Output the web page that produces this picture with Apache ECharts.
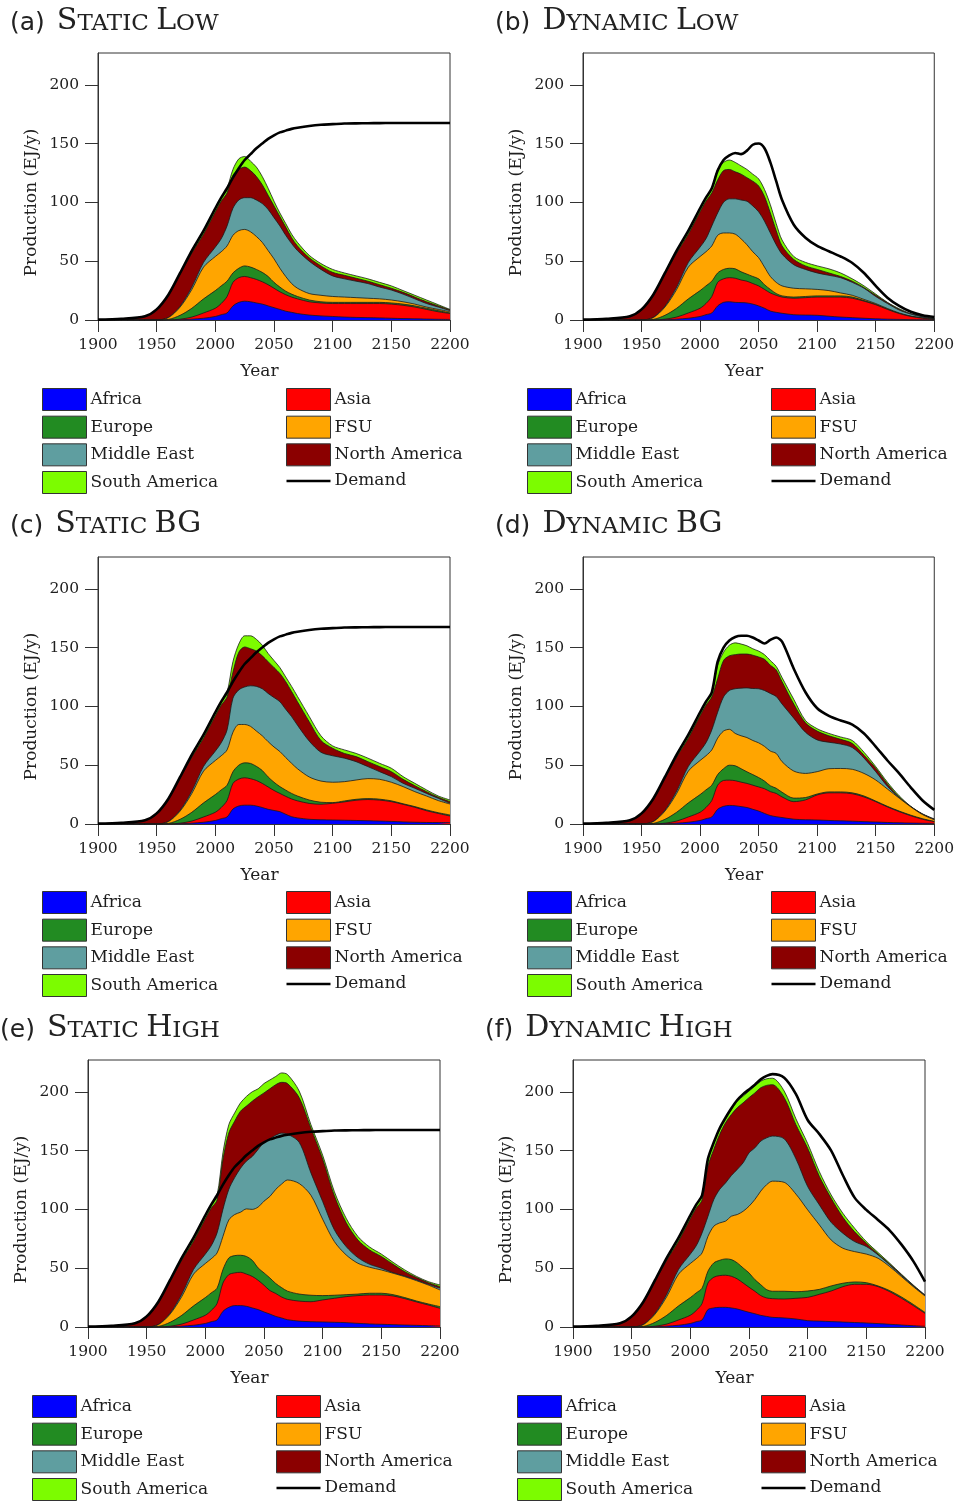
<!DOCTYPE html>
<html>
<head>
<meta charset="utf-8">
<script src="https://cdn.jsdelivr.net/npm/echarts@6/dist/echarts.min.js"></script>
<style>
  html, body { margin: 0; padding: 0; background: #ffffff; }
  #chart { width: 957px; height: 1501px; }
</style>
</head>
<body>
<div id="chart"></div>
<script>
// Sample years shared by every series (EJ/y values below are read per year)
const YEARS = [1900,1920,1940,1950,1960,1970,1980,1990,2000,2005,
  2010,2015,2020,2025,2030,2035,2040,2045,2050,2055,2060,2065,2070,
  2080,2090,2100,2110,2120,2130,2140,2150,2160,2170,2180,2190,2200];

// Historical production 1900-2005, common to all scenarios
const histAfrica  = [0,0,0,0,0,0.2,0.7,1.5,3,4.5];
const histAsia    = [0,0,0,0,0,0.5,1.8,4.5,7,9.5];
const histEurope  = [0,0,0,0,0.5,3.3,7.5,12,15,15];
const histFSU     = [0,0,0,0,1.5,7,16,27,29,29];
const histMidEast = [0,0,0,0,0.2,0.7,2,4,8,11];
const histNorthAm = [0.3,1,3,8.5,18.8,27.3,29,24,30,32];
const histSouthAm = [0,0,0.2,0.5,0.5,1,2,3,3,3];
const histDemand  = [0.3,1,3.2,9,21.5,40,59,76,95,104];

// Projections 2010-2200
// (a) Static Low
const slAfrica  = [6,12,15,16,15.5,14.5,13.5,12,10.5,9,7.5,6.5,5.5,4.2,3.5,3,2.5,2.2,2,1.8,1.5,1.2,1,0.8,0.6,0.5];
const slAsia    = [14,20,21,21,20.5,20,19,18,16.5,15,14,13,12.5,11.3,11,11,11.5,11.8,12,12.2,12,11.3,10,8.2,6.4,5];
const slEurope  = [13,8,8,9,9,8.5,8,7,5,4,3,2.5,2,1.5,1,1,1,1,1,1,1,1,1,1,1,0.5];
const slFSU     = [30,32,32,31,30,28,25.5,22,20,16,12.5,9,7,5.5,5.5,5,4.5,4,3.5,3,2.5,2,1.5,1,1,1];
const slMidEast = [17,23,26,27,29,31,33,35,35,36,35,34,32,27.5,22,17.5,15.5,14,12.5,10,8.5,6.5,4.5,3,2,1];
const slNorthAm = [28,28,26,26,23,20,16,12,10,8,7,5,4,3,3,3,3,2.5,2,2,1.5,1.5,1.5,1.5,1,0.7];
const slSouthAm = [4,5,9,9,8,8,7,6,4,3,3,3,3,2,2,2.5,2,2,2,2,2,1.5,1.5,1.5,1,0.3];
// Static demand path (a), (c), (e)
const staticDemand = [112,121,129,136,141,146,150,154,157,159.5,161,162.5,163.5,165,166,166.5,167,167.2,167.3,167.4,167.5,167.5,167.5,167.5,167.5,167.5];

// (b) Dynamic Low
const dlAfrica  = [6,12,15,15.5,15,14.8,14.5,13.5,12,10,7.6,6.5,5.7,4.5,4.2,4,3.2,2.5,2,1.5,1,0.7,0.5,0.3,0.2,0.2];
const dlAsia    = [14,20,20,20.5,20.5,19.2,18.5,17.5,17,16,15.4,14.5,13.8,14,14.8,15.5,16.3,17,16.5,14.5,12,8.3,5,2.7,1.3,0.3];
const dlEurope  = [13,8,8,8,8,7,6,6,6,4,3,1.5,1,1,1,1,1,1,1,0.5,0.3,0.2,0.1,0.1,0.1,0.1];
const dlFSU     = [30,32,31,30,29.5,28,25,21,18,15,11,9.5,8.5,7.5,6.5,5.5,4.5,2.5,1.5,1,0.7,0.6,0.4,0.2,0.1,0.1];
const dlMidEast = [17,19,26,29,30,33,37,39,39,39,37,32,27,20,16.5,14,13,13,11,9.5,6,4.2,2.5,1.7,0.8,0.3];
const dlNorthAm = [28,28,27,25,23,22,20,21,22,21,17,12,7,4.5,3,3,2,1,1,0.5,1,0.7,0.5,0,0.3,0.1];
const dlSouthAm = [4,9,7,8,8,7,7,6,6,6,7,6,5,2.5,3,3,3.5,3,2,1.5,1,0.3,0.6,0.4,0,0.3];
const dlDemand  = [112,127,136,140,142,141,144,149,150,146,134,118,102,81,70,63,58.5,54,48.5,40,29,19,12,7,4,2.5];

// (c) Static BG
const sbAfrica  = [6,12.7,15.3,16,16,15.3,14,12.5,11.5,10.5,8.3,6.2,5.2,4,3.6,3.4,3.2,3,2.8,2.5,2.2,1.8,1.5,1.3,1.2,1.1];
const sbAsia    = [14,21.8,22.9,23.3,22.5,21.7,20.5,19,17,15.5,15.2,15.1,14.5,13.5,13.2,14.2,15.6,17.2,18,17.8,16.8,14.9,12.7,10,7.8,5.7];
const sbEurope  = [13,9.9,11.8,12.7,13,12,11,8.5,7,5.8,5.3,4.7,4.1,2.9,1.7,0.6,0.8,0.8,0.8,0.8,0.7,0.5,0.6,0.7,0.6,0.9];
const sbFSU     = [30,33.6,34.6,32.6,31.5,30,29.5,30,30,29.8,27.7,25.6,23.2,19.6,18,17.3,16.4,16.4,17,16.9,15.8,14.6,12.7,11.8,10.3,9.3];
const sbMidEast = [17,29,29.4,31.9,34.5,38,40,41,42,42.4,41,39.7,37,30.5,24.5,22.5,20,15.6,10.2,6.5,4.8,2.8,2.9,2.2,1.9,0.6];
const sbNorthAm = [28,22,32,34,31.5,30,28,27,25.5,24,23.5,21.3,20,16.5,10,6.4,4,4.3,4.2,4.3,4.2,3.4,2.2,1.5,0.9,1.4];
const sbSouthAm = [4,9,7,9.5,11,10,9,7,6,5,4,4.4,4.5,4.5,4,2,3,2.7,3,2.8,2.9,2.3,2,1.5,1.1,1.4];

// (d) Dynamic BG
const dbAfrica  = [6,12.5,15,15.8,15.5,14.8,14,12.5,11,9,7.2,6.2,5.5,4.1,3.6,3.4,3,2.7,2.4,2,1.7,1.3,1,0.8,0.6,0.5];
const dbAsia    = [14,20.5,22,21.5,21.3,20.8,20.5,20.5,20.5,21,20.3,19.8,17.5,14.9,16.9,21.3,23.5,23.8,23.3,21,17.3,13.2,9.5,6.2,3.4,1.5];
const dbEurope  = [13,9,10,12.7,12.7,11.4,9.9,9,8,6.5,5,4.4,4,3,2,0.8,0.8,0.8,0.8,0.8,0.5,0.5,0.5,0.5,0.5,0.2];
const dbFSU     = [30,31,32,30.5,27.5,28,29.1,29,29.5,29.5,29.5,29.6,26,23,20.5,19,19.7,19.9,20,19.2,17.9,14.7,11,7,3.5,1.4];
const dbMidEast = [17,22,29,33,38,40.5,42.2,44.2,46,47.5,49,48.4,49,45,35,27,22.5,20.8,18.5,13,7.1,2.3,0.5,0,0.2,0.2];
const dbNorthAm = [28,28.5,31,29.5,29,29,28.8,28.3,27,26.5,24,22.6,19,12,8,7.5,5.5,4,3.5,2.5,2.9,2,0.5,0.3,0.2,0.2];
const dbSouthAm = [4,11.5,7,9,10,8.5,7,5.5,5,4,4,3,3.5,4,2,2,2,2,2.5,2.5,1.4,1.5,1,0.2,0.2,0.3];
const dbDemand  = [112,138,150,156,159,160,160,158.5,156,153.5,156.5,158.5,155,132,112,98.4,92,88,84.5,77,65.8,54,43,31,20,12];

// (e) Static High
const shAfrica  = [6,13.3,16.7,18.2,18.2,17.6,16.2,14.8,12.8,11,9,7.7,6.2,5,4.5,4.3,4,3.7,3.1,2.6,2.3,2,1.7,1.4,1.1,0.9];
const shAsia    = [14,24.1,27.8,27.8,28.3,27.4,26.8,24.9,22.7,20,19.5,17.8,17.3,17,17,18.7,20.4,22.1,23.6,24.6,24.9,24.4,22.4,19.9,17.6,15];
const shEurope  = [13,11.4,14.2,14.7,14.5,15,13.7,10.5,10.5,10.7,8.5,8,7,6,5.5,3.7,2.6,1.7,1.3,1.5,1.5,1.1,0.9,0.8,0.9,1.4];
const shFSU     = [30,28.2,32.3,34.9,36.6,40.4,43.3,51.8,61,69.3,80,88,94.5,94,85,64.9,45.6,33.8,26.2,22.1,19.8,18.2,17.8,17.3,16.1,14.2];
const shMidEast = [17,23,26,31.4,37.4,40.6,45,49,50,49,46,43.3,39,35,19,15.1,10,7.1,4.8,2.5,1.5,0.5,0.5,0.6,0.6,1.5];
const shNorthAm = [28,42.4,48,48,48.5,46.8,47,44.7,42,42.5,43,43.2,43,38,38,36,28.9,20.4,15,12.2,10,7.1,3.7,2,1.4,1.3];
const shSouthAm = [4,5.6,7,7,7.1,8.2,8,6.8,8,7.5,7,8,7.7,5.6,3,3.3,3.5,3.7,3,2.5,2,1.7,1.5,1,0.9,1.4];

// (f) Dynamic High
const dhAfrica  = [6,14.8,16.2,16.7,16.7,16.2,15.3,13.9,12.5,11.3,9.9,9,8.2,7.7,6.8,5.4,5,4.6,4.2,3.8,3.4,2.9,2.3,1.7,1.1,0.6];
const dhAsia    = [14,22.6,26.1,27,27.3,26.9,25.6,23.5,21.3,19.1,16.8,15.7,15.9,16.1,17.6,19.8,22.8,26,30.1,32.5,32.9,31.4,27.7,22.7,17.1,11];
const dhEurope  = [13,10,12.2,13,13.9,14.2,13.6,12.8,12.2,9.9,9.3,7.1,6.3,6.6,5.6,5.4,4.2,4.3,2.9,2,1.4,0.6,0.9,1.1,1,0.8];
const dhFSU     = [30,29.6,31.2,31.8,32.1,36.9,41.1,48.2,56.7,68.1,79.5,89.2,93.6,92.6,83,69,54.8,39.1,29.8,25.8,24.3,23.5,20.4,17.3,15.1,14];
const dhMidEast = [17,17,22.7,28.5,32.5,34.6,38.4,41.2,45.3,43.9,42.5,39.8,38.3,37,30,19.8,17,15,12.7,8.5,6.4,2.9,1.5,0.9,0.6,0.3];
const dhNorthAm = [28,42.7,42.6,46.7,51.1,51.9,52.4,51,47,46.7,45.4,44.6,43.7,35,29,32.6,24.2,20.5,13.6,8.4,2.8,0.7,0.5,0.6,0.3,0.3];
const dhSouthAm = [4,5.7,5.6,4.3,2.9,4.3,5.6,5.7,5.6,5.8,5.6,5.6,5.5,5.6,5,4,4,2.8,3.4,3,1.4,1.3,0.9,0.5,0.5,0.2];
const dhDemand  = [112,143,157,169,178,186,193,198,202,206,210.5,213.5,215,212,198,176,164,150,129,110,99.6,91,82,70,56,38.6];

const Y_TICKS = [0, 50, 100, 150, 200];

// Region order is the stacking order, bottom to top
const REGIONS = [
  { name: 'Africa',        color: '#0000ff' },
  { name: 'Asia',          color: '#ff0000' },
  { name: 'Europe',        color: '#228b22' },
  { name: 'FSU',           color: '#ffa500' },
  { name: 'Middle East',   color: '#5f9ea0' },
  { name: 'North America', color: '#8b0000' },
  { name: 'South America', color: '#7cfc00' }
];
const HISTORY = [histAfrica, histAsia, histEurope, histFSU, histMidEast, histNorthAm, histSouthAm];

const SCENARIOS = [
  { label: '(a)', words: [['S', 'TATIC '], ['L', 'OW']],
    regions: [slAfrica, slAsia, slEurope, slFSU, slMidEast, slNorthAm, slSouthAm], demand: staticDemand },
  { label: '(b)', words: [['D', 'YNAMIC '], ['L', 'OW']],
    regions: [dlAfrica, dlAsia, dlEurope, dlFSU, dlMidEast, dlNorthAm, dlSouthAm], demand: dlDemand },
  { label: '(c)', words: [['S', 'TATIC '], ['BG', '']],
    regions: [sbAfrica, sbAsia, sbEurope, sbFSU, sbMidEast, sbNorthAm, sbSouthAm], demand: staticDemand },
  { label: '(d)', words: [['D', 'YNAMIC '], ['BG', '']],
    regions: [dbAfrica, dbAsia, dbEurope, dbFSU, dbMidEast, dbNorthAm, dbSouthAm], demand: dbDemand },
  { label: '(e)', words: [['S', 'TATIC '], ['H', 'IGH']],
    regions: [shAfrica, shAsia, shEurope, shFSU, shMidEast, shNorthAm, shSouthAm], demand: staticDemand },
  { label: '(f)', words: [['D', 'YNAMIC '], ['H', 'IGH']],
    regions: [dhAfrica, dhAsia, dhEurope, dhFSU, dhMidEast, dhNorthAm, dhSouthAm], demand: dhDemand }
];

// Page placement of each panel: plot box, title and legend anchors
const LAYOUT = [
  { left: 98,  top: 53,   titleLeft: 10,  titleTop: 6,    legLeft: 42,  legTop: 388 },
  { left: 583, top: 53,   titleLeft: 495, titleTop: 6,    legLeft: 527, legTop: 388 },
  { left: 98,  top: 557,  titleLeft: 10,  titleTop: 509,  legLeft: 42,  legTop: 891 },
  { left: 583, top: 557,  titleLeft: 495, titleTop: 509,  legLeft: 527, legTop: 891 },
  { left: 88,  top: 1060, titleLeft: 0,   titleTop: 1013, legLeft: 32,  legTop: 1395 },
  { left: 573, top: 1060, titleLeft: 485, titleTop: 1013, legLeft: 517, legTop: 1395 }
];
const PLOT_W = 352, PLOT_H = 267;
const Y_MAX = 227;

const SERIF = 'DejaVu Serif';
const INK = '#1e1e1e';

function pairs(values) {
  return values.map((v, i) => [YEARS[i], v]);
}
function colorOf(name) {
  return REGIONS.find(r => r.name === name).color;
}
// Running totals so each region's band sits on the regions below it
function stackTops(layers) {
  const tops = [];
  layers.forEach((layer, r) => {
    tops.push(layer.map((v, i) => +((r ? tops[r - 1][i] : 0) + v).toFixed(2)));
  });
  return tops;
}

const grids = [], xAxes = [], yAxes = [], series = [], legends = [], titles = [];

SCENARIOS.forEach((sc, p) => {
  const L = LAYOUT[p];
  grids.push({
    left: L.left, top: L.top, width: PLOT_W, height: PLOT_H,
    show: true, borderColor: '#333', borderWidth: 1, backgroundColor: 'transparent'
  });
  xAxes.push({
    type: 'value', gridIndex: p, min: 1900, max: 2200, interval: 50,
    name: 'Year', nameLocation: 'middle', nameGap: 43,
    nameTextStyle: { fontFamily: SERIF, fontSize: 17, color: INK, padding: [0, 29, 0, 0] },
    axisLine: { show: true, onZero: false, lineStyle: { color: '#333', width: 1 } },
    axisTick: { show: true, inside: false, length: 12, lineStyle: { color: '#333' } },
    axisLabel: { fontFamily: SERIF, fontSize: 15.5, color: INK, margin: 17, formatter: v => String(v) },
    splitLine: { show: false }
  });
  yAxes.push({
    type: 'value', gridIndex: p, min: 0, max: Y_MAX, interval: 50,
    name: 'Production (EJ/y)', nameLocation: 'middle', nameGap: 58,
    nameTextStyle: { fontFamily: SERIF, fontSize: 17, color: INK, padding: [0, 32, 0, 0] },
    axisLine: { show: true, lineStyle: { color: '#333', width: 1 } },
    axisTick: { show: true, inside: false, length: 13, customValues: Y_TICKS, lineStyle: { color: '#333' } },
    axisLabel: { fontFamily: SERIF, fontSize: 15.5, color: INK, margin: 19, customValues: Y_TICKS, formatter: v => String(v) },
    splitLine: { show: false }
  });

  const layers = REGIONS.map((reg, r) => HISTORY[r].concat(sc.regions[r]));
  const tops = stackTops(layers);
  REGIONS.forEach((reg, r) => {
    // Each band is filled down to zero; lower regions are painted above higher ones
    series.push({
      type: 'line', name: reg.name, xAxisIndex: p, yAxisIndex: p,
      data: pairs(tops[r]),
      symbol: 'none', smooth: 0.3,
      lineStyle: { width: 0.8, color: '#1a1a1a' },
      areaStyle: { color: reg.color, opacity: 1, origin: 'start' },
      itemStyle: { color: reg.color },
      emphasis: { disabled: true },
      z: 10 - r
    });
  });
  series.push({
    type: 'line', name: 'Demand', xAxisIndex: p, yAxisIndex: p,
    data: pairs(histDemand.concat(sc.demand)),
    symbol: 'none', smooth: 0.3,
    lineStyle: { width: 2.6, color: '#000' },
    itemStyle: { color: '#000' },
    emphasis: { disabled: true },
    z: 12
  });

  // Title: "(x)" in sans, scenario words in small caps
  let text = '{p|' + sc.label + '}';
  sc.words.forEach(w => {
    text += '{c|' + w[0] + '}';
    if (w[1]) text += '{s|' + w[1] + '}';
  });
  titles.push({
    left: L.titleLeft, top: L.titleTop, padding: 0,
    text: text,
    textStyle: {
      fontWeight: 'normal',
      rich: {
        p: { fontFamily: 'DejaVu Sans', fontWeight: 'normal', fontSize: 25, color: '#222', lineHeight: 27, verticalAlign: 'bottom', padding: [0, 12, 0, 0] },
        c: { fontFamily: SERIF, fontWeight: 'normal', fontSize: 30, color: '#222', lineHeight: 30, verticalAlign: 'bottom' },
        s: { fontFamily: SERIF, fontWeight: 'normal', fontSize: 23, color: '#222', lineHeight: 26, verticalAlign: 'bottom' }
      }
    }
  });

  const legendBase = {
    orient: 'vertical', padding: 0, itemGap: 4.67, itemWidth: 44, itemHeight: 22,
    height: 120, selectedMode: false, icon: 'rect',
    itemStyle: { borderColor: '#333', borderWidth: 1 },
    textStyle: { fontFamily: SERIF, fontSize: 17, lineHeight: 20, color: INK, padding: [0, 0, 0, -1] }
  };
  legends.push(Object.assign({}, legendBase, {
    left: L.legLeft, top: L.legTop,
    data: ['Africa', 'Europe', 'Middle East', 'South America'].map(n => ({ name: n, itemStyle: { color: colorOf(n) } }))
  }));
  legends.push(Object.assign({}, legendBase, {
    left: L.legLeft + 244, top: L.legTop,
    data: ['Asia', 'FSU', 'North America'].map(n => ({ name: n, itemStyle: { color: colorOf(n) } }))
      .concat([{ name: 'Demand', icon: 'path://M0,0H44V2.5H0Z', itemStyle: { color: '#000', borderWidth: 0 } }])
  }));
});

const chart = echarts.init(document.getElementById('chart'), null, { renderer: 'canvas' });
chart.setOption({
  backgroundColor: '#ffffff',
  animation: false,
  title: titles,
  legend: legends,
  grid: grids,
  xAxis: xAxes,
  yAxis: yAxes,
  series: series
});
</script>
</body>
</html>
